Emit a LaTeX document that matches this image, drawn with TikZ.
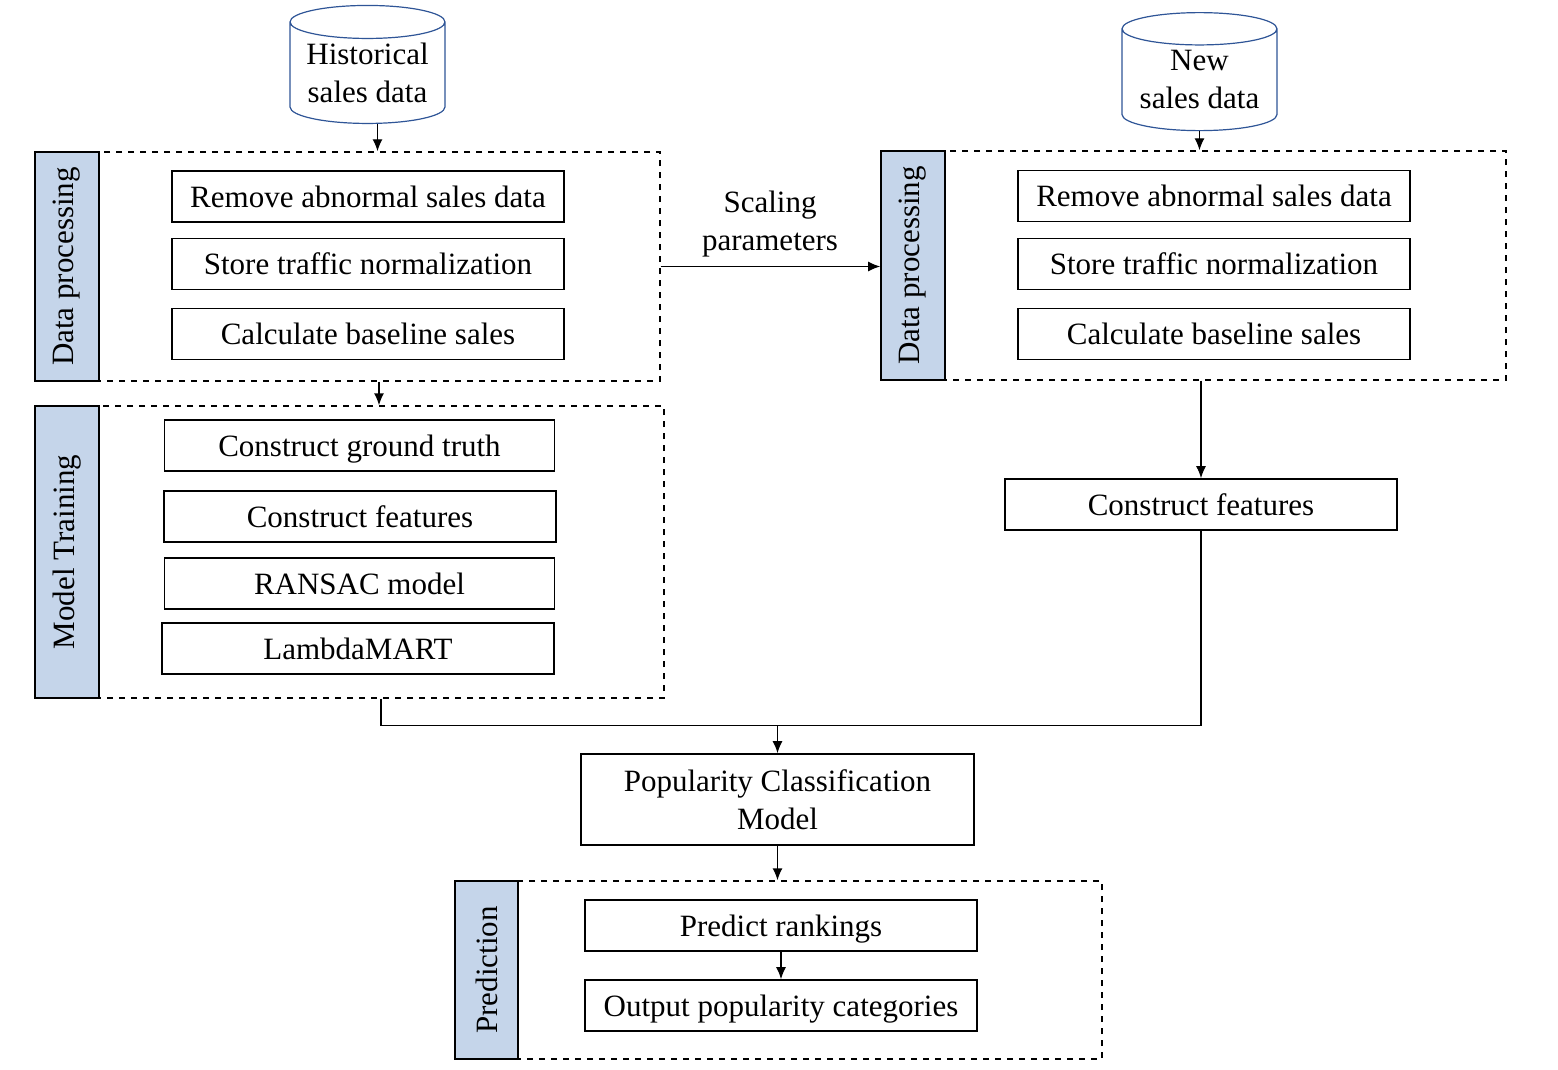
\documentclass[tikz,border=0pt]{standalone}
\usepackage{fontspec}
\setmainfont{Liberation Serif}
\usetikzlibrary{shapes.geometric,arrows.meta}

\definecolor{barblue}{HTML}{C5D5EA}
\definecolor{dbline}{HTML}{2F5597}

\tikzset{
  every node/.style={font=\fontsize{15.5}{19}\selectfont},
  stepbox/.style={draw, line width=0.8pt, minimum width=196pt, minimum height=25.5pt, inner sep=0pt,
    text height=11pt, text depth=0.5pt},
  modelbox/.style={draw, line width=0.8pt, minimum width=196.5pt, minimum height=45.5pt, inner sep=0pt, align=center},
  stagebox/.style={draw, dashed, line width=0.7pt, inner sep=0pt},
  stagebar/.style={draw, fill=barblue, line width=0.8pt, rotate=90, minimum height=32pt, inner sep=0pt},
  datastore/.style={draw=dbline, fill=white, line width=0.6pt, cylinder, shape border rotate=90,
    aspect=0.27, minimum width=77.5pt, minimum height=59pt, align=center, inner sep=0pt},
  arr/.style={-{Latex[length=6pt,width=5pt]}, line width=0.7pt},
  line/.style={line width=0.7pt}
}

\begin{document}
\begin{tikzpicture}[x=0.5pt,y=-0.5pt]
  \useasboundingbox (0,0) rectangle (1558,1070);

  % data sources
  \node[datastore] (hist) at (367.5,73) {Historical\\sales data};
  \node[datastore] (new) at (1199.5,80) {New\\sales data};

  % data processing, historical
  \node[stagebox, minimum width=312.5pt, minimum height=114.5pt] (dp1) at (347.5,266.5) {};
  \node[stagebar, minimum width=114.5pt] (dp1bar) at (67,266.5) {Data processing};
  \node[stepbox] (rm1) at (368,196.5) {Remove abnormal sales data};
  \node[stepbox] (st1) at (368,264) {Store traffic normalization};
  \node[stepbox] (cb1) at (368,334) {Calculate baseline sales};

  % model training
  \node[stagebox, minimum width=314.5pt, minimum height=146pt] (mt) at (349.5,552) {};
  \node[stagebar, minimum width=146pt] (mtbar) at (67,552) {Model Training};
  \node[stepbox, minimum width=195pt] (gt) at (359.5,445.5) {Construct ground truth};
  \node[stepbox] (cf1) at (360,516.5) {Construct features};
  \node[stepbox, minimum width=195pt] (rs) at (359.5,583.5) {RANSAC model};
  \node[stepbox] (lm) at (358,648.5) {LambdaMART};

  % data processing, new
  \node[stagebox, minimum width=312.5pt, minimum height=114.5pt] (dp2) at (1193.5,265.5) {};
  \node[stagebar, minimum width=114.5pt] (dp2bar) at (913,265.5) {Data processing};
  \node[stepbox] (rm2) at (1214,196) {Remove abnormal sales data};
  \node[stepbox] (st2) at (1214,264) {Store traffic normalization};
  \node[stepbox] (cb2) at (1214,334) {Calculate baseline sales};

  \node[stepbox] (cf2) at (1201,504.5) {Construct features};

  % model
  \node[modelbox] (pcm) at (777.5,799.5) {Popularity Classification\\Model};

  % prediction
  \node[stagebox, minimum width=323.5pt, minimum height=89pt] (pred) at (778.5,970) {};
  \node[stagebar, minimum width=89pt, minimum height=31.5pt] (predbar) at (486.5,970) {Prediction};
  \node[stepbox] (rank) at (781,925.5) {Predict rankings};
  \node[stepbox] (outc) at (781,1005.5) {Output popularity categories};

  \node[align=center] (scal) at (770,224) {Scaling\\parameters};

  \coordinate (join) at ([yshift=14pt]pcm.north);

  \draw[arr] ([xshift=5pt]hist.south) -- ([xshift=5pt]hist.south |- dp1.north);
  \draw[arr] ([xshift=15.75pt]dp1.south) -- ([xshift=15.75pt]dp1.south |- mt.north);
  \draw[arr] (dp1.east) -- (dp1.east -| dp2bar.north);
  \draw[arr] (new.south) -- (new.south |- dp2.north);
  \draw[arr] (dp2.south -| cf2.north) -- (cf2.north);
  \draw[line] (cf2.south) |- (join);
  \draw[line] ([xshift=15.75pt]mt.south) |- (join);
  \draw[arr] (join) -- (pcm.north);
  \draw[arr] (pcm.south) -- (pcm.south |- pred.north);
  \draw[arr] (rank.south) -- (outc.north);
\end{tikzpicture}
\end{document}
